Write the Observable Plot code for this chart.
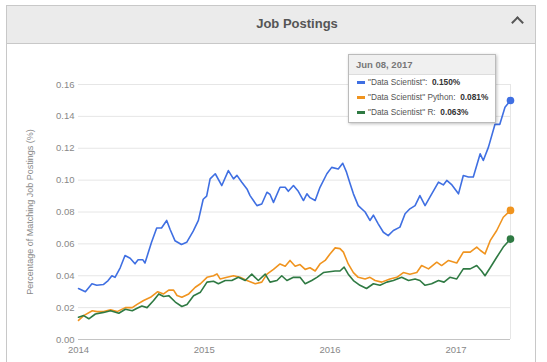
<!DOCTYPE html>
<html>
<head>
<meta charset="utf-8">
<script src="https://cdn.jsdelivr.net/npm/d3@7"></script>
<script src="https://cdn.jsdelivr.net/npm/@observablehq/plot@0.6"></script>
<style>
  html, body { margin: 0; padding: 0; background: #fff; width: 547px; height: 362px; overflow: hidden; font-family: Arial, "Liberation Sans", sans-serif; }
  #panel { position: absolute; left: 6px; top: 5px; width: 530px; height: 370px; border: 1px solid #c8c8c8; box-sizing: border-box; }
  #header { position: absolute; left: 0; top: 0; right: 0; height: 37px; background: #ebebeb; border-bottom: 1px solid #c8c8c8; }
  #title { position: absolute; left: 0; right: 0; top: 10px; text-align: center; font-size: 13px; font-weight: bold; color: #555; padding-left: 52px; }
  #caret { position: absolute; right: 13px; top: 12px; width: 9px; height: 9px; border-left: 2px solid #555; border-top: 2px solid #555; transform: rotate(45deg); box-sizing: border-box; }
  #chart { position: absolute; left: 0; top: 43px; }
  #tip { position: absolute; left: 348px; top: 54px; width: 148px; height: 69px; background: #fff; border: 1px solid #bbb; box-shadow: 1px 1px 3px rgba(0,0,0,0.25); box-sizing: border-box; font-size: 8.3px; color: #555; }
  #tip .hd { height: 19px; background: #f0f0f0; border-bottom: 1px solid #ddd; font-weight: bold; font-size: 9.5px; color: #777; line-height: 19px; padding-left: 7px; }
  #tip .row { height: 15px; line-height: 15px; padding-left: 8px; white-space: nowrap; }
  #tip .dash { display: inline-block; width: 8px; height: 3px; vertical-align: middle; margin-right: 3px; margin-top: -1px; }
  #tip b { color: #333; }
</style>
</head>
<body>
<div id="panel">
  <div id="header"><div id="title">Job Postings</div><div id="caret"></div></div>
</div>
<div id="chart"></div>
<div id="tip"></div>
<script>
// ---- Data ----
const seriesNames = ['"Data Scientist"', '"Data Scientist" Python', '"Data Scientist" R'];
const seriesColors = ["#3f6fe2", "#f0941f", "#2f7a43"];
const tipLabels = ['"Data Scientist":', '"Data Scientist" Python:', '"Data Scientist" R:'];
const tipValues = ["0.150%", "0.081%", "0.063%"];
const tipDate = "Jun 08, 2017";
const yTicks = [0, 0.02, 0.04, 0.06, 0.08, 0.10, 0.12, 0.14, 0.16];
const xTickYears = ["2014-01-01", "2015-01-01", "2016-01-01", "2017-01-01"];
const xDomain = ["2014-01-01", "2017-06-08"];

const dsDates = ["2014-01-01","2014-01-21","2014-02-09","2014-02-23","2014-03-14","2014-03-28","2014-04-08","2014-04-17","2014-05-02","2014-05-16","2014-05-31","2014-06-14","2014-06-23","2014-07-07","2014-07-13","2014-08-01","2014-08-16","2014-08-30","2014-09-14","2014-09-24","2014-10-08","2014-10-27","2014-11-11","2014-11-30","2014-12-15","2014-12-29","2015-01-08","2015-01-18","2015-02-02","2015-02-21","2015-03-12","2015-03-27","2015-04-06","2015-04-20","2015-05-05","2015-05-14","2015-06-03","2015-06-17","2015-07-02","2015-07-11","2015-07-21","2015-08-09","2015-08-24","2015-09-02","2015-09-17","2015-10-01","2015-10-16","2015-10-26","2015-11-04","2015-11-19","2015-12-03","2015-12-23","2016-01-06","2016-01-25","2016-02-07","2016-02-18","2016-02-28","2016-03-09","2016-03-23","2016-04-12","2016-04-26","2016-05-06","2016-05-20","2016-06-04","2016-06-18","2016-07-03","2016-07-22","2016-08-06","2016-08-20","2016-09-04","2016-09-18","2016-10-03","2016-10-17","2016-11-11","2016-11-25","2016-12-05","2016-12-20","2017-01-08","2017-01-22","2017-02-06","2017-02-20","2017-03-12","2017-03-21","2017-04-05","2017-04-24","2017-05-08","2017-05-23","2017-06-08"];
const dsValues = [0.032,0.030,0.035,0.034,0.0345,0.037,0.040,0.039,0.045,0.0527,0.051,0.0475,0.050,0.050,0.048,0.061,0.070,0.070,0.0747,0.069,0.062,0.0596,0.061,0.068,0.0747,0.088,0.090,0.1008,0.104,0.0966,0.106,0.1008,0.103,0.0987,0.0945,0.0903,0.084,0.085,0.0924,0.091,0.086,0.0955,0.0955,0.093,0.0966,0.093,0.0872,0.0914,0.089,0.0872,0.0955,0.104,0.108,0.107,0.1106,0.105,0.098,0.0914,0.084,0.080,0.0747,0.078,0.0726,0.0673,0.0652,0.0684,0.0705,0.0789,0.082,0.084,0.0903,0.084,0.0893,0.0987,0.097,0.0998,0.097,0.0914,0.1029,0.102,0.102,0.1165,0.1123,0.1207,0.135,0.135,0.1457,0.150];

const pyDates = ["2014-01-01","2014-01-16","2014-02-10","2014-02-24","2014-03-15","2014-04-04","2014-04-23","2014-05-17","2014-06-06","2014-06-20","2014-07-09","2014-07-29","2014-08-19","2014-09-05","2014-09-20","2014-10-04","2014-10-14","2014-10-28","2014-11-17","2014-12-06","2014-12-21","2015-01-09","2015-01-28","2015-02-07","2015-02-16","2015-03-08","2015-03-27","2015-04-15","2015-05-05","2015-05-29","2015-06-17","2015-07-02","2015-07-21","2015-08-09","2015-08-24","2015-09-07","2015-09-22","2015-10-06","2015-10-21","2015-11-04","2015-11-19","2015-12-03","2015-12-18","2016-01-01","2016-01-16","2016-01-30","2016-02-09","2016-02-23","2016-03-09","2016-03-23","2016-04-12","2016-04-26","2016-05-11","2016-05-30","2016-06-23","2016-07-13","2016-08-01","2016-08-20","2016-09-09","2016-09-23","2016-10-13","2016-11-06","2016-11-20","2016-12-10","2017-01-03","2017-01-22","2017-02-11","2017-03-02","2017-03-12","2017-03-26","2017-04-10","2017-04-29","2017-05-18","2017-06-08"];
const pyValues = [0.012,0.015,0.018,0.0175,0.0175,0.0186,0.0175,0.020,0.020,0.022,0.0245,0.0265,0.030,0.0286,0.031,0.031,0.0276,0.0265,0.0286,0.0328,0.035,0.039,0.040,0.0412,0.038,0.039,0.040,0.039,0.037,0.035,0.036,0.041,0.044,0.0474,0.046,0.0496,0.046,0.047,0.044,0.045,0.043,0.0474,0.0496,0.0537,0.0575,0.057,0.0548,0.0474,0.042,0.039,0.038,0.039,0.037,0.036,0.038,0.039,0.042,0.041,0.042,0.0464,0.0443,0.0485,0.0464,0.0496,0.048,0.0548,0.0548,0.058,0.056,0.0537,0.062,0.0684,0.0767,0.081];

const rDates = ["2014-01-01","2014-01-16","2014-01-31","2014-02-19","2014-03-15","2014-04-04","2014-04-28","2014-05-17","2014-06-06","2014-06-20","2014-07-04","2014-07-19","2014-08-07","2014-08-22","2014-09-05","2014-09-20","2014-10-09","2014-10-28","2014-11-12","2014-12-01","2014-12-21","2015-01-09","2015-01-28","2015-02-11","2015-03-03","2015-03-22","2015-04-10","2015-04-30","2015-05-19","2015-06-07","2015-06-27","2015-07-11","2015-07-31","2015-08-14","2015-08-29","2015-09-17","2015-10-06","2015-10-21","2015-11-09","2015-11-24","2015-12-13","2016-01-16","2016-01-30","2016-02-11","2016-02-23","2016-03-09","2016-03-28","2016-04-16","2016-05-06","2016-05-25","2016-06-14","2016-07-03","2016-07-27","2016-08-16","2016-09-04","2016-09-18","2016-10-03","2016-10-22","2016-11-11","2016-11-27","2016-12-14","2017-01-03","2017-01-22","2017-02-11","2017-03-02","2017-03-16","2017-03-26","2017-04-10","2017-04-29","2017-05-18","2017-06-08"];
const rValues = [0.014,0.015,0.013,0.016,0.017,0.018,0.0165,0.019,0.018,0.0196,0.021,0.020,0.0245,0.0286,0.027,0.0275,0.0235,0.0207,0.022,0.0275,0.0297,0.036,0.0365,0.035,0.037,0.037,0.039,0.037,0.041,0.037,0.041,0.036,0.037,0.040,0.037,0.039,0.039,0.035,0.037,0.039,0.042,0.043,0.043,0.0454,0.041,0.037,0.034,0.032,0.035,0.034,0.036,0.037,0.039,0.037,0.038,0.037,0.034,0.035,0.037,0.036,0.039,0.038,0.0443,0.0443,0.0464,0.043,0.040,0.045,0.0516,0.058,0.063];

// ---- Build table ----
const parse = d3.utcParse("%Y-%m-%d");
const allDates = [dsDates, pyDates, rDates];
const allValues = [dsValues, pyValues, rValues];
const rows = [];
seriesNames.forEach((name, i) => {
  allDates[i].forEach((d, j) => rows.push({series: name, date: parse(d), value: allValues[i][j]}));
});
const lastPoints = seriesNames.map((name, i) => ({series: name, date: parse(allDates[i][allDates[i].length - 1]), value: allValues[i][allValues[i].length - 1]}));

const chart = Plot.plot({
  width: 547,
  height: 319,
  marginLeft: 78,
  marginRight: 37,
  marginTop: 41,
  marginBottom: 23,
  style: {fontFamily: "Arial, 'Liberation Sans', sans-serif", fontSize: "9.5px", color: "#888", background: "transparent"},
  x: {type: "utc", domain: xDomain.map(parse)},
  y: {domain: [0, 0.16]},
  color: {domain: seriesNames, range: seriesColors},
  marks: [
    Plot.gridY(yTicks, {stroke: "#e6e6e6", strokeOpacity: 1}),
    Plot.ruleY([0], {stroke: "#c4c4c4"}),
    Plot.ruleX([parse(xDomain[1])], {stroke: "#e6e6e6", strokeOpacity: 1}),
    Plot.axisY({ticks: yTicks, tickSize: 0, tickPadding: 4, tickFormat: d3.format(".2f"), label: null, fill: "#888"}),
    Plot.axisX({ticks: xTickYears.map(parse), tickSize: 0, tickPadding: 7, tickFormat: d3.utcFormat("%Y"), label: null, fill: "#888"}),
    Plot.text(["Percentage of Matching Job Postings (%)"], {frameAnchor: "left", textAnchor: "middle", dx: -48, dy: 0, rotate: -90, fill: "#888", fontSize: 9}),
    Plot.lineY(rows, {x: "date", y: "value", z: "series", stroke: "series", strokeWidth: 1.6, curve: "linear"}),
    Plot.dot(lastPoints, {x: "date", y: "value", fill: "series", r: 3.8})
  ]
});
document.getElementById("chart").appendChild(chart);

// Tooltip built from the same data arrays
const tip = document.getElementById("tip");
let html = `<div class="hd">${tipDate}</div>`;
tipLabels.forEach((t, i) => {
  html += `<div class="row"><span class="dash" style="background:${seriesColors[i]}"></span>${t}&nbsp; <b>${tipValues[i]}</b></div>`;
});
tip.innerHTML = html;
</script>
</body>
</html>
